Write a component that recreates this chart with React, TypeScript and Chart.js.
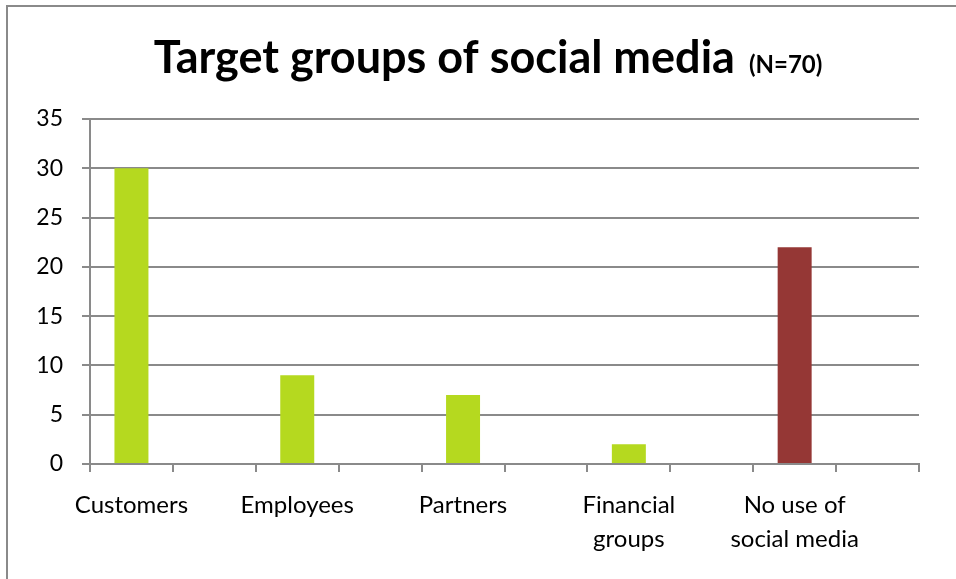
import { useEffect, useRef } from 'react';
import { Chart, registerables } from 'chart.js';

Chart.register(...registerables);

const categories: (string | string[])[] = [
  'Customers',
  'Employees',
  'Partners',
  ['Financial', 'groups'],
  ['No use of', 'social media'],
];
const values: number[] = [30, 9, 7, 2, 22];
const barColors: string[] = ['#B5D91F', '#B5D91F', '#B5D91F', '#B5D91F', '#953735'];
const yMin = 0;
const yMax = 35;
const yStep = 5;
const titleMain = 'Target groups of social media';
const titleNote = '(N=70)';

const FONT = 'Lato, "Open Sans", sans-serif';
const GRID = '#8a8a8a';

const titlePlugin = {
  id: 'twoSizeTitle',
  afterDraw(chart: any) {
    const ctx = chart.ctx as CanvasRenderingContext2D;
    ctx.save();
    ctx.fillStyle = '#000';
    ctx.textBaseline = 'alphabetic';
    ctx.textAlign = 'left';
    const mainFont = `bold 45px ${FONT}`;
    const noteFont = `bold 24px ${FONT}`;
    ctx.font = mainFont;
    const w1 = ctx.measureText(titleMain).width;
    ctx.font = noteFont;
    const w2 = ctx.measureText(titleNote).width;
    const gap = 14;
    const total = w1 + gap + w2;
    const cx = 488;
    const baseline = 73;
    let x = cx - total / 2;
    ctx.font = mainFont;
    ctx.fillText(titleMain, x, baseline);
    x += w1 + gap;
    ctx.font = noteFont;
    ctx.fillText(titleNote, x, baseline);
    ctx.restore();
  },
};

export default function App() {
  const ref = useRef<HTMLCanvasElement | null>(null);

  useEffect(() => {
    if (!ref.current) return;
    const labels = categories.flatMap((c) => [c, '']);
    const data = values.flatMap((v) => [v, null]);
    const colors = barColors.flatMap((c) => [c, 'rgba(0,0,0,0)']);
    const chart = new Chart(ref.current, {
      type: 'bar',
      data: {
        labels,
        datasets: [
          {
            data,
            backgroundColor: colors,
            borderWidth: 0,
            categoryPercentage: 1,
            barPercentage: 0.41,
          },
        ],
      },
      options: {
        animation: false,
        responsive: false,
        layout: { padding: { top: 119, right: 37, bottom: 0, left: 0 } },
        plugins: {
          legend: { display: false },
          title: { display: false },
          tooltip: { enabled: false },
        },
        scales: {
          x: {
            grid: {
              offset: true,
              drawOnChartArea: false,
              drawTicks: true,
              tickLength: 8,
              color: GRID,
              lineWidth: 2,
            },
            border: { display: true, color: GRID, width: 2 },
            ticks: {
              color: '#000',
              font: { family: FONT, size: 24, lineHeight: 1.42 },
              padding: 16,
              maxRotation: 0,
              minRotation: 0,
              autoSkip: false,
            },
            afterFit: (s: any) => {
              s.height = 115;
            },
          },
          y: {
            min: yMin,
            max: yMax,
            ticks: {
              stepSize: yStep,
              padding: 19,
              color: '#000',
              font: { family: FONT, size: 23 },
            },
            grid: { color: GRID, lineWidth: 2, tickLength: 8 },
            border: { display: true, color: GRID, width: 2 },
            afterFit: (s: any) => {
              s.width = 90;
            },
          },
        },
      },
      plugins: [titlePlugin],
    });
    return () => chart.destroy();
  }, []);

  return (
    <div style={{ position: 'fixed', left: 0, top: 0, width: 956, height: 579, background: '#fff', overflow: 'hidden' }}>
      <canvas ref={ref} width={956} height={579} style={{ display: 'block' }} />
      <div
        style={{
          position: 'absolute',
          left: 6,
          top: 5,
          width: 1200,
          height: 1200,
          borderLeft: '2px solid #8a8a8a',
          borderTop: '2px solid #8a8a8a',
          pointerEvents: 'none',
        }}
      />
    </div>
  );
}
